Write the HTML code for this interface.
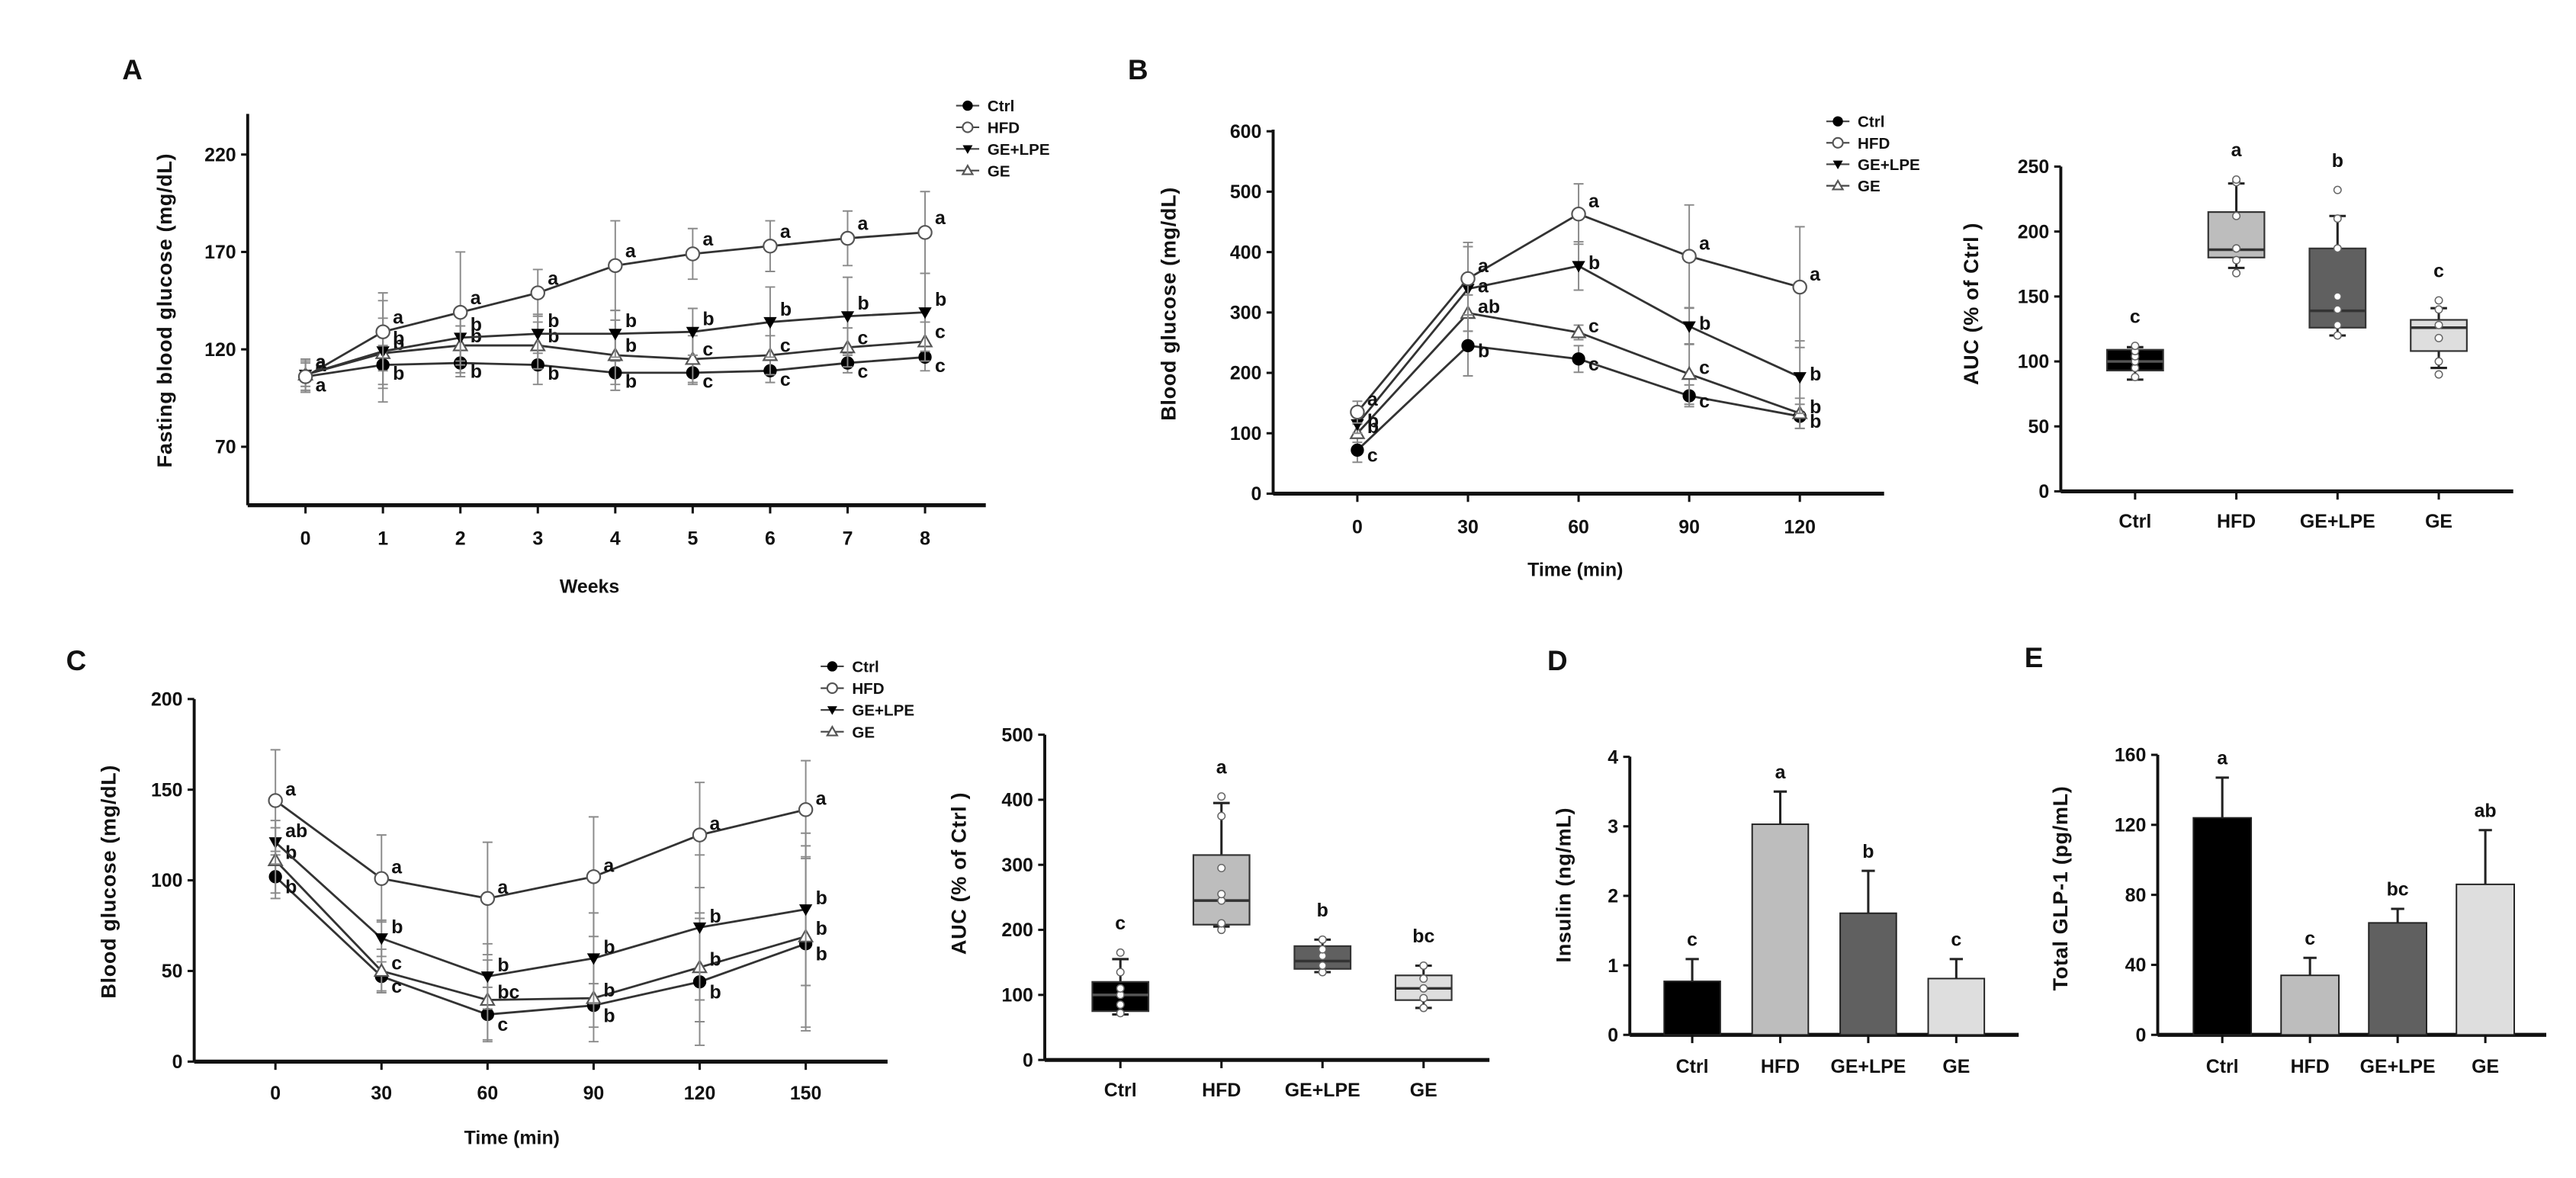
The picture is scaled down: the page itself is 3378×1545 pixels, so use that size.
<!DOCTYPE html>
<html><head><meta charset="utf-8"><title>Glucose figure</title>
<style>
html,body{margin:0;padding:0;background:#fff;}
svg{display:block;}
text{font-family:"Liberation Sans Narrow","Liberation Sans",Arial,sans-serif;fill:#111;}
.tk{font-size:11.5px;font-weight:bold;}
.yt{font-family:"Liberation Sans",Arial,sans-serif;font-size:12.5px;font-weight:bold;letter-spacing:0.3px;}
.pl{font-family:"Liberation Sans",Arial,sans-serif;font-size:17px;font-weight:bold;}
.lt{font-size:11.5px;font-weight:bold;}
.lg{font-size:9.5px;font-weight:bold;}
</style></head>
<body>
<svg id="fig" xmlns="http://www.w3.org/2000/svg" width="3378" height="1545" viewBox="0 0 1560 713.5">
<rect width="1560" height="713.5" fill="#fff"/>
</svg>
<script>
// ---- Panel A data ----
const aWeeks=[0,1,2,3,4,5,6,7,8];
const aCtrl=[106,112,113,112,108,108,109,113,116];
const aCtrlErr=[8,10,7,10,6,6,6,5,7];
const aCtrlLet=["a","b","b","b","b","c","c","c","c"];
const aHFD=[106,129,139,149,163,169,173,177,180];
const aHFDErr=[8,20,31,12,23,13,13,14,21];
const aHFDLet=["a","a","a","a","a","a","a","a","a"];
const aGL=[107,119,126,128,128,129,134,137,139];
const aGLErr=[8,26,12,10,12,12,18,20,20];
const aGLLet=["a","b","b","b","b","b","b","b","b"];
const aGE=[107,118,122,122,117,115,117,121,124];
const aGEErr=[6,18,10,12,18,12,10,10,10];
const aGELet=["a","b","b","b","b","c","c","c","c"];
const aYTicks=[70,120,170,220];
// ---- Panel B (OGTT) data ----
const bTimes=[0,30,60,90,120];
const bCtrl=[72,245,223,162,128];
const bCtrlErr=[20,50,22,18,20];
const bCtrlLet=["c","b","c","c","b"];
const bHFD=[135,356,463,393,342];
const bHFDErr=[18,60,50,85,100];
const bHFDLet=["a","a","a","a","a"];
const bGL=[115,339,377,277,193];
const bGLErr=[15,70,40,30,60];
const bGLLet=["b","a","b","b","b"];
const bGE=[100,299,267,198,133];
const bGEErr=[15,30,12,50,25];
const bGELet=["b","ab","c","c","b"];
const bYTicks=[0,100,200,300,400,500,600];
// ---- Panel B AUC ----
const groups=["Ctrl","HFD","GE+LPE","GE"];
const bAucQ1=[93,180,126,108];
const bAucQ3=[109,215,187,132];
const bAucMed=[100,186,139,126];
const bAucLo=[86,172,120,95];
const bAucHi=[111,237,212,141];
const bAucPts=[[88,95,100,104,108,112],[168,178,187,212,238,240],[120,128,140,150,187,210,232],[90,100,118,128,140,147]];
const bAucLet=["c","a","b","c"];
const bAucTicks=[0,50,100,150,200,250];
// ---- Panel C (ITT) data ----
const cTimes=[0,30,60,90,120,150];
const cCtrl=[102,47,26,31,44,65];
const cCtrlErr=[12,8,15,12,35,48];
const cCtrlLet=["b","c","c","b","b","b"];
const cHFD=[144,101,90,102,125,139];
const cHFDErr=[28,24,31,33,29,27];
const cHFDLet=["a","a","a","a","a","a"];
const cGL=[121,68,47,57,74,84];
const cGLErr=[12,10,18,25,40,42];
const cGLLet=["ab","b","b","b","b","b"];
const cGE=[111,50,34,35,52,69];
const cGEErr=[18,12,22,24,30,50];
const cGELet=["b","c","bc","b","b","b"];
const cYTicks=[0,50,100,150,200];
// ---- Panel C AUC ----
const cAucQ1=[75,208,140,92];
const cAucQ3=[120,315,175,130];
const cAucMed=[100,245,152,110];
const cAucLo=[70,205,135,80];
const cAucHi=[155,395,185,145];
const cAucPts=[[72,85,100,110,135,165],[200,210,245,255,295,375,405],[135,145,160,170,185],[80,95,110,125,145]];
const cAucLet=["c","a","b","bc"];
const cAucTicks=[0,100,200,300,400,500];
// ---- Panel D insulin ----
const dVals=[0.77,3.03,1.75,0.81];
const dErr=[0.32,0.47,0.61,0.28];
const dLet=["c","a","b","c"];
const dTicks=[0,1,2,3,4];
// ---- Panel E GLP-1 ----
const eVals=[124,34,64,86];
const eErr=[23,10,8,31];
const eLet=["a","c","bc","ab"];
const eTicks=[0,40,80,120,160];
const barFill=["#000000","#bdbdbd","#606060","#dedede"];

const NS="http://www.w3.org/2000/svg";
const svg=document.getElementById("fig");
function mk(tag,attrs,parent,txt){const e=document.createElementNS(NS,tag);for(const k in attrs)e.setAttribute(k,attrs[k]);if(txt!==undefined)e.textContent=txt;(parent||svg).appendChild(e);return e;}
function grp(name,parent){const g=mk("g",{},parent);


return g;}

function panelLabel(t,x,y){const e=mk("text",{x:x,y:y,class:"pl"},svg,t);

}

function axes(g,ax,ticks,ylab,ytx,yty,pfx){
  const yl=mk("line",{x1:ax.x0,y1:ax.yb,x2:ax.x0,y2:ax.yt,stroke:"#111","stroke-width":1.8},g);
  
  
  const xl=mk("line",{x1:ax.x0,y1:ax.yb,x2:ax.x1,y2:ax.yb,stroke:"#111","stroke-width":2.4},g);
  
  
  ticks.forEach(v=>{const y=ax.Y(v);
    mk("line",{x1:ax.x0-4,y1:y,x2:ax.x0,y2:y,stroke:"#111","stroke-width":1.4},g);
    const t=mk("text",{x:ax.x0-7,y:y+4,class:"tk","text-anchor":"end"},g,String(v));
    
    
  });
  const tt=mk("text",{x:ytx,y:yty,class:"yt","text-anchor":"middle",transform:"rotate(-90 "+ytx+" "+yty+")"},g,ylab);
  
  
}
function xTicks(g,ax,vals,labels,ly,pfx){
  vals.forEach((v,i)=>{const x=ax.X(v);
    mk("line",{x1:x,y1:ax.yb,x2:x,y2:ax.yb+5,stroke:"#111","stroke-width":1.4},g);
    const t=mk("text",{x:x,y:ly,class:"tk","text-anchor":"middle"},g,labels[i]);
    
    
  });
}
function marker(g,type,x,y,s){
  s=s||1;let e;
  if(type==="ctrl") e=mk("circle",{cx:x,cy:y,r:3.6*s,fill:"#000",stroke:"#000","stroke-width":0.8},g);
  else if(type==="hfd") e=mk("circle",{cx:x,cy:y,r:4*s,fill:"#fff",stroke:"#555","stroke-width":1},g);
  else if(type==="gl") e=mk("path",{d:`M${x-4*s},${y-3*s}L${x+4*s},${y-3*s}L${x},${y+4*s}Z`,fill:"#000"},g);
  else e=mk("path",{d:`M${x-4*s},${y+3*s}L${x+4*s},${y+3*s}L${x},${y-4*s}Z`,fill:"#fff",stroke:"#555","stroke-width":1},g);
  return e;
}
function series(g,ax,xs,vals,errs,lets,type,name,dy){
  const sg=grp(name,g);
  let d="";xs.forEach((t,i)=>{d+=(i?"L":"M")+ax.X(t)+","+ax.Y(vals[i]);});
  const p=mk("path",{d:d,fill:"none",stroke:"#333","stroke-width":1.3},sg);
  
  
  xs.forEach((t,i)=>{const x=ax.X(t),y=ax.Y(vals[i]),e1=ax.Y(vals[i]+errs[i]),e2=ax.Y(vals[i]-errs[i]);
    const eb=mk("path",{d:`M${x},${e1}L${x},${e2}M${x-3},${e1}L${x+3},${e1}M${x-3},${e2}L${x+3},${e2}`,stroke:"#8a8a8a","stroke-width":0.9,fill:"none"},sg);
    
    
    const m=marker(sg,type,x,y);
    
    
    const l=mk("text",{x:x+6,y:y+dy,class:"lt"},sg,lets[i]);
    
    
  });
}
function legend(g,x,y0,step,pfx){
  const items=[["Ctrl","ctrl"],["HFD","hfd"],["GE+LPE","gl"],["GE","ge"]];
  items.forEach((it,i)=>{const y=y0+i*step;
    const lg=grp(pfx+'-legend-entry-'+it[0].toLowerCase(),g);
    mk("line",{x1:x-7,y1:y,x2:x+7,y2:y,stroke:"#444","stroke-width":1},lg);
    marker(lg,it[1],x,y,0.75);
    mk("text",{x:x+12,y:y+3.5,class:"lg"},lg,it[0]);
  });
}
function boxplot(g,ax,q1,q3,med,lo,hi,pts,lets,pfx){
  groups.forEach((gname,i)=>{const cx=ax.X(i),w=17;
    const bg=grp(pfx+'-box-'+gname.toLowerCase().replace('+','-'),g);
    mk("path",{d:`M${cx},${ax.Y(lo[i])}L${cx},${ax.Y(hi[i])}M${cx-5},${ax.Y(lo[i])}L${cx+5},${ax.Y(lo[i])}M${cx-5},${ax.Y(hi[i])}L${cx+5},${ax.Y(hi[i])}`,stroke:"#222","stroke-width":1.4,fill:"none"},bg);
    mk("rect",{x:cx-w,y:ax.Y(q3[i]),width:2*w,height:ax.Y(q1[i])-ax.Y(q3[i]),fill:barFill[i],stroke:"#333","stroke-width":1},bg);
    mk("line",{x1:cx-w,y1:ax.Y(med[i]),x2:cx+w,y2:ax.Y(med[i]),stroke:i===0?"#555":"#333","stroke-width":1.6},bg);
    pts[i].forEach(v=>{mk("circle",{cx:cx,cy:ax.Y(v),r:2.2,fill:"#fff",stroke:"#666","stroke-width":0.7},bg);});
    const top=Math.max(hi[i],Math.max.apply(null,pts[i]));
    const l=mk("text",{x:cx,y:ax.Y(top)-14,class:"lt","text-anchor":"middle"},bg,lets[i]);
    
    
    mk("text",{x:cx,y:ax.yb+22,class:"tk","text-anchor":"middle"},bg,gname);
    mk("line",{x1:cx,y1:ax.yb,x2:cx,y2:ax.yb+5,stroke:"#111","stroke-width":1.4},bg);
  });
}
function bars(g,ax,vals,errs,lets,pfx,w){
  groups.forEach((gname,i)=>{const cx=ax.X(i);
    const bg=grp(pfx+'-bar-'+gname.toLowerCase().replace('+','-'),g);
    const r=mk("rect",{x:cx-w/2,y:ax.Y(vals[i]),width:w,height:ax.yb-ax.Y(vals[i]),fill:barFill[i],stroke:"#222","stroke-width":0.9},bg);
    
    
    const et=ax.Y(vals[i]+errs[i]);
    mk("path",{d:`M${cx},${ax.Y(vals[i])}L${cx},${et}M${cx-4},${et}L${cx+4},${et}`,stroke:"#222","stroke-width":1.4,fill:"none"},bg);
    const l=mk("text",{x:cx,y:et-8,class:"lt","text-anchor":"middle"},bg,lets[i]);
    
    
    mk("line",{x1:cx,y1:ax.yb,x2:cx,y2:ax.yb+5,stroke:"#111","stroke-width":1.4},bg);
    mk("text",{x:cx,y:ax.yb+23,class:"tk","text-anchor":"middle"},bg,gname);
  });
}

// ---- Panel A ----
panelLabel("A",74,48);
const gA=grp("panel-a-fasting-glucose");
const axA={x0:150,x1:597,yb:306,yt:69,X:v=>185+v*46.9,Y:v=>306-(v-40)*1.18};
axes(gA,axA,aYTicks,"Fasting blood glucose (mg/dL)",104,188,"a");
xTicks(gA,axA,aWeeks,aWeeks.map(String),330,"a");
const wl=mk("text",{x:357,y:359,class:"tk","text-anchor":"middle"},gA,"Weeks");


series(gA,axA,aWeeks,aCtrl,aCtrlErr,aCtrlLet,"ctrl","a-ctrl",9);
series(gA,axA,aWeeks,aGE,aGEErr,aGELet,"ge","a-ge",-2);
series(gA,axA,aWeeks,aGL,aGLErr,aGLLet,"gl","a-ge-lpe",-4);
series(gA,axA,aWeeks,aHFD,aHFDErr,aHFDLet,"hfd","a-hfd",-5);
legend(gA,586,64,13.1,"a");

// ---- Panel B ----
panelLabel("B",683,48);
const gB=grp("panel-b-ogtt");
const axB={x0:771,x1:1141,yb:299,yt:78.5,X:v=>822+v*2.233,Y:v=>299-v*0.3658};
axes(gB,axB,bYTicks,"Blood glucose (mg/dL)",712,184,"b");
xTicks(gB,axB,bTimes,bTimes.map(String),323,"b");
const bl=mk("text",{x:954,y:349,class:"tk","text-anchor":"middle"},gB,"Time (min)");


series(gB,axB,bTimes,bCtrl,bCtrlErr,bCtrlLet,"ctrl","b-ctrl",7);
series(gB,axB,bTimes,bGE,bGEErr,bGELet,"ge","b-ge",0);
series(gB,axB,bTimes,bGL,bGLErr,bGLLet,"gl","b-ge-lpe",2);
series(gB,axB,bTimes,bHFD,bHFDErr,bHFDLet,"hfd","b-hfd",-4);
legend(gB,1113,73.5,13,"b");
const gBa=grp("panel-b-auc");
const axBa={x0:1248,x1:1522,yb:297.6,yt:100.9,X:i=>1293+i*61.3,Y:v=>297.6-v*0.7868};
axes(gBa,axBa,bAucTicks,"AUC (% of Ctrl )",1198,184,"b-auc");
boxplot(gBa,axBa,bAucQ1,bAucQ3,bAucMed,bAucLo,bAucHi,bAucPts,bAucLet,"b-auc");

// ---- Panel C ----
panelLabel("C",40,406);
const gC=grp("panel-c-itt");
const axC={x0:117.6,x1:537.5,yb:643,yt:423.4,X:v=>166.8+v*2.141,Y:v=>643-v*1.098};
axes(gC,axC,cYTicks,"Blood glucose (mg/dL)",70,534,"c");
xTicks(gC,axC,cTimes,cTimes.map(String),666,"c");
const cl=mk("text",{x:310,y:693,class:"tk","text-anchor":"middle"},gC,"Time (min)");


series(gC,axC,cTimes,cCtrl,cCtrlErr,cCtrlLet,"ctrl","c-ctrl",10);
series(gC,axC,cTimes,cGE,cGEErr,cGELet,"ge","c-ge",-1);
series(gC,axC,cTimes,cGL,cGLErr,cGLLet,"gl","c-ge-lpe",-3);
series(gC,axC,cTimes,cHFD,cHFDErr,cHFDLet,"hfd","c-hfd",-3);
legend(gC,504,403.6,13.2,"c");
const gCa=grp("panel-c-auc");
const axCa={x0:632.7,x1:902,yb:642,yt:445,X:i=>678.5+i*61.2,Y:v=>642-v*0.394};
axes(gCa,axCa,cAucTicks,"AUC (% of Ctrl )",585,529,"c-auc");
boxplot(gCa,axCa,cAucQ1,cAucQ3,cAucMed,cAucLo,cAucHi,cAucPts,cAucLet,"c-auc");

// ---- Panel D ----
panelLabel("D",937,406);
const gD=grp("panel-d-insulin");
const axD={x0:987,x1:1222.5,yb:626.8,yt:458.3,X:i=>1024.8+i*53.3,Y:v=>626.8-v*42.1};
axes(gD,axD,dTicks,"Insulin (ng/mL)",951,536,"d");
bars(gD,axD,dVals,dErr,dLet,"d",34);

// ---- Panel E ----
panelLabel("E",1226,404);
const gE=grp("panel-e-glp1");
const axE={x0:1306.7,x1:1542,yb:626.8,yt:457.2,X:i=>1345.8+i*53.1,Y:v=>626.8-v*1.06};
axes(gE,axE,eTicks,"Total GLP-1 (pg/mL)",1252,538,"e");
bars(gE,axE,eVals,eErr,eLet,"e",35);
</script>
</body></html>
